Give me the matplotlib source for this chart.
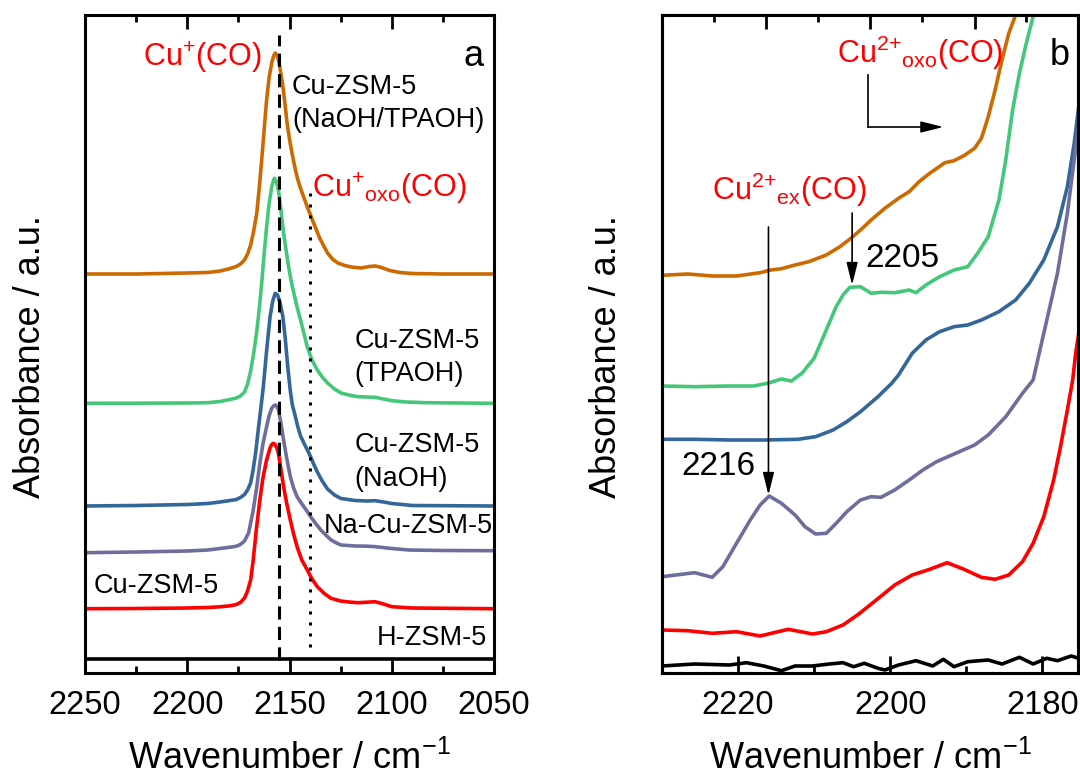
import matplotlib
matplotlib.use('Agg')
import matplotlib.pyplot as plt

plt.rcParams['font.family'] = ['Liberation Sans', 'DejaVu Sans']
plt.rcParams['mathtext.fontset'] = 'custom'
plt.rcParams['mathtext.rm'] = 'Liberation Sans'
plt.rcParams['mathtext.it'] = 'Liberation Sans:italic'
plt.rcParams['mathtext.bf'] = 'Liberation Sans:bold'
plt.rcParams['mathtext.default'] = 'regular'

# ---------------- Panel a data (offset spectra, arbitrary units) ----------------
a_naoh_tpaoh_wn = [2250, 2225, 2200, 2190, 2184, 2179, 2176, 2174, 2172, 2170.5, 2169, 2167.5, 2166, 2164.8,
                   2163.6, 2162.4, 2161.2, 2160, 2158.7, 2157.8, 2157, 2156.2, 2155.4, 2154.3, 2153.2, 2152.2,
                   2151.2, 2150, 2148.8, 2147.5, 2146.3, 2145, 2143.8, 2142.5, 2141.3, 2140, 2138.8, 2137,
                   2135.5, 2133.5, 2131.4, 2129, 2126.4, 2123, 2119.8, 2115, 2111, 2108, 2105, 2101, 2096,
                   2090, 2075, 2050]
a_naoh_tpaoh_abs = [399, 399, 400, 400.5, 402, 404.5, 406.5, 409, 413, 419, 428, 442, 460, 485, 513, 543,
                    573, 595, 610, 617, 620, 618, 613, 601, 586, 569, 550, 534, 520, 507, 496, 487, 480,
                    473, 466, 459.5, 453, 444, 436, 428, 420, 414, 410, 407.5, 406, 405, 406.5, 407, 405.5,
                    402.5, 400.5, 399.5, 399, 399]

a_tpaoh_wn = [2250, 2225, 2200, 2190, 2184, 2179, 2176, 2174, 2172, 2170.5, 2169, 2167.5, 2166.1, 2164.8,
              2163.6, 2162.4, 2161.2, 2160, 2158.7, 2157.9, 2157.4, 2156.5, 2155.4, 2154.2, 2152.9, 2151.6,
              2150.4, 2149.2, 2147.9, 2146.3, 2144.6, 2143, 2141.3, 2139, 2136.4, 2134, 2131.4, 2128, 2124.8,
              2120, 2116.5, 2112, 2108.2, 2104, 2100, 2093, 2083.4, 2050]
a_tpaoh_abs = [269.7, 269.8, 270, 270.3, 271.5, 273.5, 275, 277, 281, 289, 302, 320, 340, 364, 390, 419,
               446, 469, 486, 492, 494.7, 492, 483, 463, 440, 422, 406, 392, 380, 366, 353, 340, 326, 313,
               303, 296, 290, 284, 280, 277.5, 276.3, 276, 275.7, 274, 272.3, 271, 270.3, 269.7]

a_naoh_wn = [2250, 2225, 2200, 2190, 2184, 2179, 2176, 2174, 2172, 2170.5, 2169, 2167.8, 2166.5, 2165.3,
             2164, 2162.8, 2161.2, 2159.5, 2158.2, 2157, 2155.8, 2154.6, 2153.3, 2152.1, 2150.8, 2149.6,
             2148.6, 2147.2, 2145.9, 2144.6, 2142.5, 2140.5, 2138.4, 2136.4, 2134, 2131.4, 2128, 2124.8,
             2118, 2112, 2108, 2104, 2100, 2090, 2050]
a_naoh_abs = [167, 167.5, 168.5, 169.5, 171, 172.5, 173.5, 175.5, 178.5, 183, 190, 203, 221, 243, 265,
              286.3, 322, 356.3, 372, 379.7, 378, 370, 357, 335, 305, 282, 268, 257, 246, 237, 228, 220,
              210, 201, 192, 184, 178, 174.5, 172.5, 172, 172.3, 171, 169.5, 167.5, 167]

a_nacu_wn = [2250, 2225, 2200, 2190, 2184, 2179, 2176, 2174, 2172, 2170, 2167.8, 2166, 2164.5, 2163, 2161.2,
             2160, 2158.7, 2157.8, 2157, 2156.2, 2155.4, 2154.2, 2152.9, 2151.3, 2149.6, 2148, 2146.3,
             2144.6, 2143, 2141.3, 2139.7, 2137, 2134.7, 2132, 2129.7, 2127, 2124.8, 2118, 2112, 2108,
             2100, 2091.7, 2075, 2050]
a_nacu_abs = [120.3, 121, 122, 123, 124.5, 125.8, 126.8, 128.5, 132, 140, 162, 186, 209.7, 229, 246.3,
              257, 264.7, 267, 268, 267, 263, 250, 233, 214, 196.3, 185, 176.3, 171, 166.3, 161.5, 156.3,
              149, 143, 137.5, 133, 130, 128, 127, 126.8, 126.3, 124.5, 123, 122.5, 122.3]

a_cu_wn = [2250, 2225, 2200, 2190, 2184, 2179, 2176, 2174, 2172, 2170.5, 2169, 2167.8, 2166.3, 2164.5, 2163,
           2161.2, 2159.5, 2158.7, 2157.9, 2157, 2156.2, 2155.4, 2154.2, 2152.9, 2151.3, 2149.6, 2148,
           2146.3, 2144, 2141.3, 2139, 2136.4, 2133, 2129.7, 2125, 2120, 2116.5, 2112, 2108.2, 2104, 2100,
           2090, 2050]
a_cu_abs = [64.3, 64.5, 65, 65.5, 66.2, 67.2, 68.5, 70.5, 75, 82, 93, 112, 142, 173, 195, 213, 225, 228.5,
            229.7, 228.5, 225, 219.7, 204, 186.3, 169, 153, 139, 126.3, 113, 103, 94, 86.3, 79.5, 74.7, 72,
            70.8, 70.3, 70.8, 71.3, 69, 66.3, 65, 64.3]

a_h_wn = [2250, 2050]
a_h_abs = [14, 14]

a_cu_plus_peak = 2155      # Cu+(CO) dashed line
a_cu_oxo_peak = 2140       # Cu+oxo(CO) dotted line

# ---------------- Panel b data ----------------
b_naoh_tpaoh_wn = [2230, 2226.6, 2223.4, 2220.2, 2217.1, 2215.7, 2214.3, 2212.5, 2210.7, 2208.4, 2206.6,
                   2205.0, 2203.9, 2202.5, 2200.7, 2198.9, 2197.5, 2196.2, 2194.8, 2192.8, 2191.6, 2190.3,
                   2188.9, 2188.0, 2187.1, 2186.2, 2185.3, 2184.4, 2183.5, 2183.0]
b_naoh_tpaoh_abs = [397.7, 399, 397, 397, 400.3, 403, 404.3, 408, 411.3, 418, 426.3, 435.7, 443, 453, 464.7,
                    474.7, 481.3, 491.3, 499.7, 510.3, 512.3, 517.3, 524.7, 534.7, 556.3, 583, 613, 639.7,
                    658, 673]

b_tpaoh_wn = [2230, 2225.7, 2221.1, 2218.0, 2216.1, 2214.3, 2213.0, 2211.6, 2210.0, 2208.4, 2207.1, 2206.2,
              2205.3, 2203.9, 2202.5, 2201.2, 2199.4, 2197.5, 2196.6, 2195.3, 2193.5, 2191.6, 2189.8, 2188.5,
              2187.1, 2185.7, 2184.8, 2183.9, 2183.0, 2182.1, 2181.2, 2180.8]
b_tpaoh_abs = [287, 286.3, 287, 287, 289.7, 294, 292, 299.7, 314.7, 343, 366.3, 378, 385.7, 386.3, 379.7,
               380.7, 380.3, 383, 380.3, 388, 396.3, 403, 406.3, 419.7, 436.3, 473, 513, 563, 599.7, 629.7,
               656.3, 673]

b_naoh_wn = [2230, 2225.7, 2221.1, 2216.6, 2212.1, 2209.8, 2207.5, 2205.7, 2203.9, 2201.6, 2199.8, 2198.9,
             2197.1, 2195.3, 2193.5, 2191.6, 2189.8, 2188.0, 2185.7, 2183.5, 2181.7, 2179.8, 2178.0, 2176.7,
             2175.8, 2175.2]
b_naoh_abs = [233.7, 233.7, 233, 233, 233.7, 236.3, 243, 251.3, 261.3, 276.3, 289.7, 298, 319.7, 333,
              341.3, 346.3, 348, 353, 361.3, 373, 389.7, 413, 446.3, 486.3, 529.7, 566.3]

b_nacu_wn = [2230, 2225.7, 2223.4, 2222.0, 2220.2, 2218.4, 2217.1, 2215.9, 2214.3, 2212.5, 2211.2, 2209.8,
             2208.4, 2207.1, 2205.7, 2203.9, 2202.5, 2201.2, 2199.4, 2197.5, 2195.7, 2193.9, 2191.6, 2188.9,
             2187.1, 2184.8, 2182.6, 2181.2, 2179.8, 2178.0, 2176.7, 2175.8, 2175.2]
b_nacu_abs = [96.3, 100.3, 95.7, 106.3, 129.7, 153, 168, 177, 169.7, 158, 146.3, 139, 139.7, 149.7, 161.3,
              173, 176.3, 175.7, 183, 193, 203, 211.3, 219, 228, 238, 256.3, 279.7, 293, 339.7, 399.7,
              459.7, 513, 546.3]

b_cu_wn = [2230, 2226.6, 2223.4, 2220.2, 2217.1, 2213.4, 2210.2, 2208.4, 2206.2, 2204.3, 2202.1, 2199.4,
           2197.1, 2194.8, 2192.5, 2190.3, 2188.0, 2186.2, 2184.4, 2182.6, 2181.2, 2179.8, 2178.5, 2177.6,
           2176.7, 2176.0, 2175.6, 2175.2]
b_cu_abs = [43, 42.3, 39.7, 41.3, 37, 43.7, 39, 41.3, 48, 58, 71.3, 88, 98, 103.7, 110.3, 103.7, 95.7,
            93.7, 98, 111.3, 129.7, 156.3, 193, 226.3, 263, 293, 320, 340]

b_h_wn = [2230, 2225.7, 2221.1, 2218.9, 2216.6, 2214.3, 2212.5, 2210.2, 2208.0, 2206.2, 2204.8, 2203.4,
          2201.6, 2200.7, 2198.9, 2196.6, 2194.4, 2193.0, 2191.6, 2189.8, 2187.1, 2185.3, 2183.0, 2181.2,
          2179.4, 2178.0, 2176.2, 2175.2]
b_h_abs = [7, 9, 8, 10.3, 7, 2.3, 7, 7, 9, 10.3, 6.3, 9.7, 4.7, 3, 8, 12.3, 7, 13.7, 6.3, 11.3, 13, 9,
           15.7, 9, 14.7, 12.3, 17, 14.7]

b_peak_ex = 2216
b_peak_2205 = 2205

# tick labels
a_major_ticks = [2250, 2200, 2150, 2100, 2050]
a_minor_ticks = [2225, 2175, 2125, 2075]
b_major_ticks = [2220, 2200, 2180]
b_minor_ticks = [2210, 2190]
b_top_major = [2216.3, 2202.6, 2188.9]
b_top_minor = [2223.2, 2209.5, 2195.8, 2182.1]

C_ORANGE = '#CC6A00'
C_GREEN = '#45C77A'
C_BLUE = '#33679A'
C_PURPLE = '#6E6E9E'
C_RED = '#FF0000'
C_BLACK = '#000000'

LW = 2.6
SPW = 2.2
TICK_FS = 23.5
LAB_FS = 26
ANN_FS = 19.5
RED_FS = 22

W, H = 1080, 780
fig = plt.figure(figsize=(W / 100, H / 100), dpi=100)
axa = fig.add_axes([85 / W, 107 / H, 409 / W, 658 / H])
axb = fig.add_axes([662 / W, 107 / H, 416 / W, 658 / H])

for ax in (axa, axb):
    for sp in ax.spines.values():
        sp.set_linewidth(SPW)
    ax.set_yticks([])
    ax.set_ylim(0, 658)

# ---- panel a ----
series_a = [(a_naoh_tpaoh_wn, a_naoh_tpaoh_abs, C_ORANGE), (a_tpaoh_wn, a_tpaoh_abs, C_GREEN),
            (a_naoh_wn, a_naoh_abs, C_BLUE), (a_nacu_wn, a_nacu_abs, C_PURPLE),
            (a_cu_wn, a_cu_abs, C_RED), (a_h_wn, a_h_abs, C_BLACK)]
for wn, ab, c in series_a:
    axa.plot(wn, ab, color=c, lw=LW, solid_joinstyle='round', solid_capstyle='butt')

axa.axvline(a_cu_plus_peak, ymin=0.02, ymax=0.97, color='k', lw=2.2, linestyle=(0, (4.3, 2.4)))
axa.axvline(a_cu_oxo_peak, ymin=0.04, ymax=0.73, color='k', lw=2.2, linestyle=(0, (1.0, 2.6)))

axa.set_xlim(2250, 2050)
axa.set_xticks(a_major_ticks)
axa.set_xticks(a_minor_ticks, minor=True)
axa.set_xticklabels([str(t) for t in a_major_ticks])
axa.tick_params(axis='x', which='both', direction='in', top=True, bottom=True, width=2,
                labelsize=TICK_FS, pad=12)
axa.tick_params(axis='x', which='major', length=10)
axa.tick_params(axis='x', which='minor', length=5)

axa.text(2221.6, 607, r'Cu$^{+}$(CO)', color='red', fontsize=RED_FS, ha='left', va='baseline')
axa.text(2055.3, 607, 'a', color='k', fontsize=26, ha='right', va='baseline')
axa.text(2148.8, 579, 'Cu-ZSM-5', fontsize=ANN_FS, ha='left', va='baseline')
axa.text(2148.8, 546, '(NaOH/TPAOH)', fontsize=ANN_FS, ha='left', va='baseline')
axa.text(2138.9, 476, r'Cu$^{+}{}_{oxo}$(CO)', color='red', fontsize=RED_FS, ha='left', va='baseline')
axa.text(2118.2, 325, 'Cu-ZSM-5', fontsize=ANN_FS, ha='left', va='baseline')
axa.text(2118.2, 292, '(TPAOH)', fontsize=ANN_FS, ha='left', va='baseline')
axa.text(2118.2, 221, 'Cu-ZSM-5', fontsize=ANN_FS, ha='left', va='baseline')
axa.text(2118.2, 187, '(NaOH)', fontsize=ANN_FS, ha='left', va='baseline')
axa.text(2133.4, 140, 'Na-Cu-ZSM-5', fontsize=ANN_FS, ha='left', va='baseline')
axa.text(2245.8, 80, 'Cu-ZSM-5', fontsize=ANN_FS, ha='left', va='baseline')
axa.text(2107.5, 28, 'H-ZSM-5', fontsize=ANN_FS, ha='left', va='baseline')

# ---- panel b ----
series_b = [(b_naoh_tpaoh_wn, b_naoh_tpaoh_abs, C_ORANGE), (b_tpaoh_wn, b_tpaoh_abs, C_GREEN),
            (b_naoh_wn, b_naoh_abs, C_BLUE), (b_nacu_wn, b_nacu_abs, C_PURPLE),
            (b_cu_wn, b_cu_abs, C_RED), (b_h_wn, b_h_abs, C_BLACK)]
for wn, ab, c in series_b:
    axb.plot(wn, ab, color=c, lw=LW, solid_joinstyle='round', solid_capstyle='butt')

axb.set_xlim(2230, 2175.3)
axb.set_xticks(b_major_ticks)
axb.set_xticks(b_minor_ticks, minor=True)
axb.set_xticklabels([str(t) for t in b_major_ticks])
axb.tick_params(axis='x', which='both', direction='in', top=False, bottom=True, width=2,
                labelsize=TICK_FS, pad=12)
axb.tick_params(axis='x', which='major', length=12)
axb.tick_params(axis='x', which='minor', length=5)

axt = axb.twiny()
axt.set_xlim(axb.get_xlim())
axt.set_xticks(b_top_major)
axt.set_xticks(b_top_minor, minor=True)
axt.tick_params(axis='x', which='both', direction='in', top=True, bottom=False, labeltop=False, width=2)
axt.tick_params(axis='x', which='major', length=10)
axt.tick_params(axis='x', which='minor', length=5)
for sp in axt.spines.values():
    sp.set_linewidth(SPW)

ARROW = dict(arrowstyle='-|>,head_length=0.8,head_width=0.2', mutation_scale=17,
             lw=1.2, color='k', shrinkA=0, shrinkB=0)
axb.text(2207.0, 610, r'Cu$^{2{+}}{}_{oxo}$(CO)', color='red', fontsize=RED_FS, ha='left', va='baseline')
axb.text(2176.4, 608, 'b', color='k', fontsize=26, ha='right', va='baseline')
axb.plot([2202.9, 2202.9], [598, 546], color='k', lw=1.2)
axb.annotate('', xy=(2193.0, 546), xytext=(2202.9, 546), arrowprops=ARROW)
axb.text(2223.4, 473, r'Cu$^{2{+}}{}_{ex}$(CO)', color='red', fontsize=RED_FS, ha='left', va='baseline')
axb.annotate('', xy=(b_peak_2205, 388), xytext=(b_peak_2205, 460), arrowprops=ARROW)
axb.text(2203.2, 406, '2205', fontsize=24, ha='left', va='baseline')
axb.annotate('', xy=(b_peak_ex, 178), xytext=(b_peak_ex, 446), arrowprops=ARROW)
axb.text(2227.4, 198, '2216', fontsize=24, ha='left', va='baseline')

# axis labels
fig.text(31 / W, 1 - 357 / H, 'Absorbance / a.u.', rotation=90, ha='center', va='center', fontsize=LAB_FS)
fig.text(606 / W, 1 - 357 / H, 'Absorbance / a.u.', rotation=90, ha='center', va='center', fontsize=LAB_FS)
fig.text(289.5 / W, 1 - 769 / H, r'Wavenumber / cm$^{-1}$', ha='center', va='baseline', fontsize=LAB_FS)
fig.text(870 / W, 1 - 769 / H, r'Wavenumber / cm$^{-1}$', ha='center', va='baseline', fontsize=LAB_FS)

fig.savefig('out.png', dpi=100)
